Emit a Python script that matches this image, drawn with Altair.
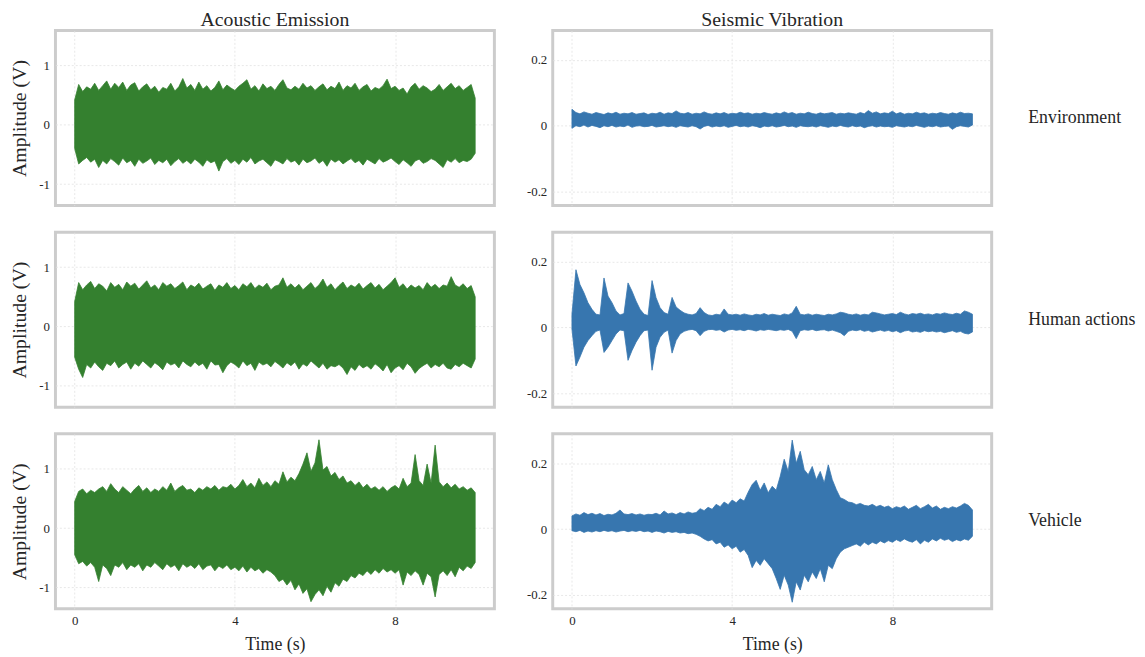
import altair as alt
import pandas as pd

T = [round(i * 0.1, 1) for i in range(101)]

# ---- Acoustic Emission (V): upper / lower envelope ----
AE_ENV_UP = [0.42, 0.68, 0.56, 0.64, 0.60, 0.70, 0.58, 0.66, 0.74, 0.60,
             0.70, 0.63, 0.72, 0.58, 0.67, 0.71, 0.57, 0.64, 0.69, 0.59,
             0.65, 0.55, 0.63, 0.60, 0.70, 0.57, 0.64, 0.78, 0.62, 0.68,
             0.58, 0.72, 0.60, 0.66, 0.57, 0.63, 0.74, 0.59, 0.67, 0.62,
             0.58, 0.65, 0.70, 0.76, 0.60, 0.66, 0.57, 0.69, 0.61, 0.65,
             0.58, 0.68, 0.76, 0.62, 0.59, 0.65, 0.60, 0.70, 0.62, 0.66,
             0.58, 0.64, 0.69, 0.59, 0.65, 0.61, 0.72, 0.58, 0.66, 0.62,
             0.70, 0.58, 0.64, 0.68, 0.57, 0.63, 0.60, 0.66, 0.77, 0.61,
             0.65, 0.58, 0.62, 0.52, 0.64, 0.70, 0.60, 0.66, 0.62, 0.56,
             0.60, 0.68, 0.58, 0.64, 0.70, 0.61, 0.66, 0.58, 0.63, 0.68,
             0.45]
AE_ENV_LO = [-0.40, -0.66, -0.60, -0.55, -0.63, -0.58, -0.72, -0.60, -0.66, -0.57,
             -0.62, -0.68, -0.56, -0.64, -0.60, -0.70, -0.58, -0.65, -0.61, -0.56,
             -0.67, -0.60, -0.64, -0.58, -0.69, -0.62, -0.57, -0.65, -0.60, -0.66,
             -0.58, -0.63, -0.70, -0.59, -0.64, -0.61, -0.78, -0.62, -0.57, -0.65,
             -0.60, -0.67, -0.58, -0.63, -0.55, -0.66, -0.61, -0.58, -0.64, -0.70,
             -0.59, -0.62, -0.66, -0.57, -0.63, -0.60, -0.68, -0.58, -0.64, -0.61,
             -0.56, -0.65, -0.60, -0.70, -0.58, -0.63, -0.59, -0.66, -0.61, -0.57,
             -0.64, -0.60, -0.68, -0.58, -0.62, -0.66, -0.57, -0.63, -0.60, -0.56,
             -0.62, -0.67, -0.59, -0.64, -0.70, -0.61, -0.58, -0.65, -0.62, -0.57,
             -0.60, -0.66, -0.72, -0.59, -0.63, -0.57, -0.64, -0.60, -0.62, -0.58,
             -0.48]
AE_HUM_UP = [0.42, 0.74, 0.62, 0.70, 0.76, 0.64, 0.72, 0.68, 0.60, 0.74,
             0.66, 0.71, 0.62, 0.75, 0.68, 0.73, 0.63, 0.70, 0.77, 0.65,
             0.70, 0.62, 0.74, 0.68, 0.72, 0.64, 0.69, 0.75, 0.62, 0.70,
             0.66, 0.73, 0.63, 0.68, 0.72, 0.61, 0.70, 0.66, 0.74, 0.64,
             0.69, 0.62, 0.72, 0.67, 0.74, 0.64, 0.70, 0.66, 0.73, 0.62,
             0.68, 0.70, 0.82, 0.66, 0.72, 0.65, 0.71, 0.62, 0.68, 0.74,
             0.64, 0.70, 0.80, 0.66, 0.72, 0.62, 0.69, 0.75, 0.64, 0.70,
             0.66, 0.73, 0.63, 0.69, 0.74, 0.65, 0.71, 0.62, 0.68, 0.74,
             0.82, 0.66, 0.72, 0.63, 0.70, 0.65, 0.69, 0.62, 0.74, 0.66,
             0.71, 0.64, 0.70, 0.68, 0.84, 0.70, 0.66, 0.72, 0.64, 0.69,
             0.50]
AE_HUM_LO = [-0.52, -0.72, -0.86, -0.64, -0.70, -0.60, -0.68, -0.74, -0.62, -0.66,
             -0.58, -0.70, -0.64, -0.60, -0.72, -0.62, -0.67, -0.58, -0.64, -0.70,
             -0.61, -0.66, -0.73, -0.60, -0.65, -0.62, -0.70, -0.58, -0.64, -0.68,
             -0.60, -0.66, -0.62, -0.72, -0.58, -0.65, -0.64, -0.78, -0.66, -0.60,
             -0.64, -0.70, -0.58, -0.66, -0.62, -0.74, -0.60, -0.65, -0.62, -0.68,
             -0.59, -0.64, -0.70, -0.61, -0.66, -0.60, -0.72, -0.63, -0.67, -0.58,
             -0.64, -0.70, -0.62, -0.72, -0.66, -0.68, -0.64, -0.70, -0.81, -0.68,
             -0.74, -0.64, -0.70, -0.66, -0.72, -0.63, -0.68, -0.75, -0.64, -0.78,
             -0.70, -0.66, -0.73, -0.62, -0.68, -0.79, -0.71, -0.66, -0.62, -0.70,
             -0.64, -0.68, -0.62, -0.70, -0.72, -0.64, -0.68, -0.62, -0.66, -0.70,
             -0.55]
AE_VEH_UP = [0.45, 0.62, 0.66, 0.58, 0.64, 0.60, 0.66, 0.70, 0.62, 0.75,
             0.66, 0.60, 0.70, 0.64, 0.58, 0.66, 0.72, 0.62, 0.68, 0.60,
             0.66, 0.62, 0.70, 0.64, 0.76, 0.62, 0.68, 0.72, 0.64, 0.66,
             0.60, 0.68, 0.64, 0.70, 0.66, 0.72, 0.64, 0.70, 0.68, 0.74,
             0.66, 0.72, 0.82, 0.70, 0.76, 0.68, 0.84, 0.72, 0.78, 0.70,
             0.80, 0.74, 0.95, 0.78, 0.86, 0.80, 0.92, 1.08, 1.27, 0.96,
             1.10, 1.49, 0.98, 1.04, 0.88, 0.94, 0.82, 0.88, 0.76, 0.80,
             0.72, 0.78, 0.68, 0.74, 0.66, 0.70, 0.64, 0.70, 0.62, 0.68,
             0.72, 0.66, 0.84, 0.70, 0.76, 1.24, 0.80, 0.72, 1.08, 0.76,
             1.40, 0.78, 0.70, 0.76, 0.68, 0.74, 0.66, 0.70, 0.64, 0.68,
             0.60]
AE_VEH_LO = [-0.45, -0.60, -0.56, -0.64, -0.58, -0.66, -0.90, -0.62, -0.68, -0.80,
             -0.62, -0.66, -0.58, -0.70, -0.62, -0.66, -0.60, -0.72, -0.62, -0.66,
             -0.58, -0.64, -0.70, -0.60, -0.66, -0.62, -0.72, -0.60, -0.66, -0.62,
             -0.68, -0.60, -0.70, -0.64, -0.62, -0.72, -0.64, -0.68, -0.62, -0.70,
             -0.66, -0.72, -0.64, -0.74, -0.66, -0.72, -0.68, -0.76, -0.70, -0.74,
             -0.80, -0.90, -0.86, -0.96, -0.88, -1.04, -0.94, -1.10, -1.02, -1.24,
             -1.12, -1.04, -1.14, -0.98, -1.08, -0.92, -0.98, -0.86, -0.90, -0.80,
             -0.84, -0.76, -0.80, -0.72, -0.78, -0.70, -0.76, -0.68, -0.74, -0.70,
             -0.76, -0.70, -0.96, -0.74, -0.80, -0.72, -0.78, -0.96, -0.76, -0.82,
             -1.16, -0.78, -0.72, -0.80, -0.70, -0.82, -0.66, -0.72, -0.64, -0.68,
             -0.58]

# ---- Seismic Vibration (V): upper / lower envelope ----
SV_ENV_UP = [0.050, 0.040, 0.036, 0.042, 0.038, 0.035, 0.040, 0.037, 0.034, 0.039,
             0.036, 0.041, 0.035, 0.038, 0.036, 0.040, 0.035, 0.037, 0.039, 0.034,
             0.038, 0.036, 0.041, 0.035, 0.039, 0.037, 0.045, 0.038, 0.036, 0.040,
             0.035, 0.038, 0.036, 0.042, 0.037, 0.035, 0.039, 0.036, 0.040, 0.035,
             0.038, 0.036, 0.041, 0.037, 0.039, 0.035, 0.038, 0.036, 0.040, 0.037,
             0.035, 0.039, 0.036, 0.042, 0.037, 0.040, 0.035, 0.038, 0.036, 0.041,
             0.037, 0.035, 0.039, 0.036, 0.038, 0.040, 0.035, 0.038, 0.036, 0.039,
             0.037, 0.035, 0.040, 0.036, 0.046, 0.038, 0.042, 0.036, 0.039, 0.037,
             0.044, 0.036, 0.040, 0.035, 0.038, 0.036, 0.041, 0.037, 0.039, 0.035,
             0.038, 0.036, 0.040, 0.037, 0.035, 0.039, 0.036, 0.041, 0.037, 0.038,
             0.036]
SV_ENV_LO = [-0.008, 0.000, -0.003, 0.002, -0.004, 0.001, -0.002, -0.006, 0.000, -0.003,
             0.001, -0.004, -0.001, -0.003, 0.002, -0.005, -0.001, 0.000, -0.003, -0.002,
             0.001, -0.004, -0.002, 0.000, -0.003, -0.001, -0.005, 0.000, -0.002, -0.004,
             0.000, -0.003, -0.010, -0.002, 0.001, -0.004, -0.001, -0.003, 0.000, -0.005,
             -0.002, 0.001, -0.003, -0.001, -0.004, 0.000, -0.002, -0.006, -0.001, -0.003,
             0.000, -0.004, -0.002, 0.001, -0.003, -0.001, -0.005, 0.000, -0.002, -0.003,
             -0.001, -0.004, 0.000, -0.002, -0.005, -0.001, -0.003, 0.001, -0.002, -0.004,
             0.000, -0.003, -0.001, -0.006, -0.002, 0.000, -0.004, -0.001, -0.003, -0.002,
             -0.005, 0.000, -0.002, -0.004, -0.001, -0.003, 0.001, -0.002, -0.005, -0.001,
             -0.003, 0.000, -0.004, -0.002, -0.001, -0.011, -0.003, 0.000, -0.002, -0.004,
             0.002]
SV_HUM_UP = [0.040, 0.175, 0.130, 0.105, 0.075, 0.055, 0.040, 0.038, 0.150, 0.095,
             0.075, 0.050, 0.038, 0.042, 0.135, 0.110, 0.080, 0.055, 0.040, 0.036,
             0.142, 0.090, 0.060, 0.045, 0.040, 0.091, 0.062, 0.052, 0.044, 0.040,
             0.038, 0.042, 0.060, 0.045, 0.038, 0.036, 0.040, 0.038, 0.056, 0.040,
             0.038, 0.040, 0.037, 0.041, 0.038, 0.036, 0.040, 0.038, 0.042, 0.037,
             0.040, 0.038, 0.036, 0.041, 0.038, 0.044, 0.064, 0.040, 0.038, 0.041,
             0.037, 0.040, 0.038, 0.036, 0.040, 0.038, 0.041, 0.046, 0.044, 0.040,
             0.038, 0.041, 0.037, 0.040, 0.038, 0.046, 0.044, 0.041, 0.038, 0.040,
             0.042, 0.039, 0.046, 0.041, 0.038, 0.042, 0.040, 0.043, 0.039, 0.041,
             0.038, 0.042, 0.040, 0.044, 0.041, 0.039, 0.043, 0.040, 0.050, 0.046,
             0.040]
SV_HUM_LO = [-0.005, -0.117, -0.090, -0.060, -0.040, -0.025, -0.012, -0.008, -0.076, -0.060,
             -0.040, -0.020, -0.008, -0.010, -0.100, -0.070, -0.045, -0.025, -0.010, -0.008,
             -0.130, -0.060, -0.030, -0.015, -0.008, -0.078, -0.040, -0.020, -0.012, -0.008,
             -0.006, -0.010, -0.025, -0.012, -0.007, -0.006, -0.009, -0.007, -0.014, -0.008,
             -0.006, -0.009, -0.007, -0.010, -0.006, -0.008, -0.011, -0.007, -0.009, -0.006,
             -0.008, -0.010, -0.007, -0.009, -0.006, -0.012, -0.034, -0.010, -0.007, -0.009,
             -0.006, -0.010, -0.008, -0.007, -0.011, -0.008, -0.012, -0.016, -0.025, -0.012,
             -0.008, -0.010, -0.007, -0.012, -0.009, -0.014, -0.011, -0.008, -0.012, -0.009,
             -0.013, -0.010, -0.016, -0.011, -0.009, -0.014, -0.012, -0.015, -0.010, -0.013,
             -0.011, -0.014, -0.012, -0.016, -0.013, -0.010, -0.015, -0.012, -0.018, -0.020,
             -0.014]
SV_VEH_UP = [0.040, 0.046, 0.042, 0.050, 0.044, 0.048, 0.043, 0.047, 0.041, 0.045,
             0.043, 0.048, 0.058, 0.046, 0.044, 0.047, 0.043, 0.046, 0.042, 0.045,
             0.044, 0.048, 0.043, 0.055, 0.046, 0.049, 0.044, 0.050, 0.046, 0.052,
             0.048, 0.050, 0.062, 0.056, 0.066, 0.060, 0.075, 0.068, 0.082, 0.074,
             0.088, 0.080, 0.092, 0.085, 0.112, 0.135, 0.148, 0.118, 0.140, 0.110,
             0.130, 0.118, 0.160, 0.212, 0.175, 0.270, 0.200, 0.236, 0.180, 0.165,
             0.190, 0.150, 0.175, 0.140, 0.195, 0.150, 0.120, 0.095, 0.090, 0.082,
             0.080, 0.074, 0.078, 0.072, 0.070, 0.075, 0.068, 0.072, 0.066, 0.070,
             0.062, 0.068, 0.064, 0.070, 0.060, 0.066, 0.072, 0.062, 0.068, 0.075,
             0.064, 0.070, 0.060, 0.066, 0.062, 0.068, 0.064, 0.070, 0.078, 0.072,
             0.058]
SV_VEH_LO = [-0.005, -0.008, -0.004, -0.010, -0.006, -0.009, -0.005, -0.008, -0.004, -0.007,
             -0.005, -0.009, -0.006, -0.004, -0.008, -0.005, -0.007, -0.004, -0.008, -0.006,
             -0.010, -0.006, -0.008, -0.012, -0.007, -0.010, -0.008, -0.012, -0.010, -0.014,
             -0.012, -0.016, -0.022, -0.030, -0.036, -0.032, -0.045, -0.040, -0.055, -0.048,
             -0.060, -0.052, -0.070, -0.062, -0.080, -0.117, -0.095, -0.110, -0.090, -0.105,
             -0.120, -0.150, -0.183, -0.140, -0.170, -0.222, -0.160, -0.185, -0.140, -0.160,
             -0.130, -0.150, -0.120, -0.160, -0.110, -0.120, -0.090, -0.070, -0.060, -0.055,
             -0.050, -0.045, -0.052, -0.040, -0.048, -0.040, -0.045, -0.036, -0.042, -0.035,
             -0.040, -0.032, -0.038, -0.030, -0.036, -0.040, -0.032, -0.045, -0.034, -0.040,
             -0.030, -0.036, -0.028, -0.034, -0.030, -0.038, -0.032, -0.036, -0.030, -0.034,
             -0.022]

COL_TITLES = ["Acoustic Emission", "Seismic Vibration"]
ROW_LABELS = ["Environment", "Human actions", "Vehicle"]
X_TICKS = [0, 4, 8]
AE_TICKS = [-1, 0, 1]
SV_TICKS = [-0.2, 0, 0.2]

GREEN = "#34802f"
BLUE = "#3776af"
FONT = "Liberation Serif"
TXT = "#262626"
W, H = 444, 177
AE_DOM = [-1.36, 1.59]
SV_DOM = [-0.242, 0.289]


def panel(up, lo, color, ydom, yticks, left, bottom, title=None, rowlabel=None):
    df = pd.DataFrame({"t": T, "up": up, "lo": lo})
    xkw = dict(values=X_TICKS, grid=True, gridDash=[2, 2], gridColor="#e2e2e2",
               gridWidth=0.8, domain=False, ticks=False, labels=bottom,
               labelPadding=6, titlePadding=8, titleFontSize=18,
               labelFont=FONT, titleFont=FONT, labelFontSize=13,
               labelColor=TXT, titleColor=TXT, titleFontWeight="normal",
               labelExpr="toString(datum.value)")
    xkw["title"] = "Time (s)" if bottom else None
    ykw = dict(values=yticks, grid=True, gridDash=[2, 2], gridColor="#e2e2e2",
               gridWidth=0.8, domain=False, ticks=False, labelPadding=6,
               titlePadding=9, titleFontSize=20,
               labelFont=FONT, titleFont=FONT, labelFontSize=13,
               labelColor=TXT, titleColor=TXT, titleFontWeight="normal",
               labelExpr="toString(datum.value)")
    ykw["title"] = "Amplitude (V)" if left else None
    area = alt.Chart(df).mark_area(
        color=color, stroke=color, strokeWidth=0.8, opacity=1, interpolate="linear"
    ).encode(
        x=alt.X("t:Q", scale=alt.Scale(domain=[-0.48, 10.48], nice=False, zero=False),
                axis=alt.Axis(**xkw)),
        y=alt.Y("up:Q", scale=alt.Scale(domain=ydom, nice=False, zero=False),
                axis=alt.Axis(**ykw)),
        y2=alt.Y2("lo:Q"),
    )
    layers = [area]
    if rowlabel is not None:
        lab = alt.Chart(pd.DataFrame({"lab": [rowlabel]})).mark_text(
            align="left", baseline="middle", font=FONT, fontSize=18, color=TXT
        ).encode(x=alt.value(W + 37), y=alt.value(H / 2), text="lab:N")
        layers.append(lab)
    ch = alt.layer(*layers).properties(width=W, height=H)
    if title is not None:
        ch = ch.properties(title=alt.TitleParams(
            title, font=FONT, fontSize=20, fontWeight="normal", color=TXT, offset=1))
    return ch


AE = [(AE_ENV_UP, AE_ENV_LO), (AE_HUM_UP, AE_HUM_LO), (AE_VEH_UP, AE_VEH_LO)]
SV = [(SV_ENV_UP, SV_ENV_LO), (SV_HUM_UP, SV_HUM_LO), (SV_VEH_UP, SV_VEH_LO)]

rows = []
for i in range(3):
    bottom = i == 2
    a = panel(AE[i][0], AE[i][1], GREEN, AE_DOM, AE_TICKS, True, bottom,
              title=COL_TITLES[0] if i == 0 else None)
    s = panel(SV[i][0], SV[i][1], BLUE, SV_DOM, SV_TICKS, False, bottom,
              title=COL_TITLES[1] if i == 0 else None, rowlabel=ROW_LABELS[i])
    rows.append(alt.hconcat(a, s, spacing=28))

chart = alt.vconcat(*rows, spacing=23).properties(
    padding={"left": 0, "top": -4, "right": 0, "bottom": 0}
).configure_view(
    stroke="#cccccc", strokeWidth=3
).configure_axis(
    labelFont=FONT, titleFont=FONT, labelFontSize=13, labelColor=TXT,
    titleColor=TXT, titleFontWeight="normal"
)

chart.save("out.html", embed_options={"renderer": "svg", "actions": False})
